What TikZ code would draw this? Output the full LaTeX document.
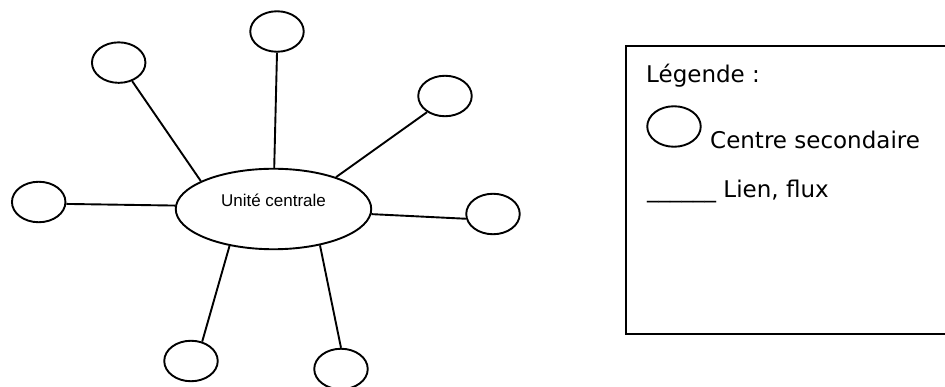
\documentclass[tikz,border=0pt]{standalone}
\usepackage{fontspec}
\setmainfont{DejaVu Sans}
\newfontfamily\arialfont{Liberation Sans}
\usepackage{tikz}
\usetikzlibrary{shapes.geometric}

\begin{document}
\begin{tikzpicture}[x=1pt, y=-1pt,
		centre/.style={draw, ellipse, line width=1.9pt, inner sep=0pt, minimum width=53.5pt, minimum height=40.5pt},
		unite/.style={draw, ellipse, line width=1.9pt, inner sep=0pt, minimum width=195.5pt, minimum height=80.5pt},
		lien/.style={-, draw, line width=1.9pt},
		legende/.style={inner sep=0pt, anchor=base west, font=\fontsize{23}{27}\selectfont}]
				\useasboundingbox (0,0) rectangle (945,387);
				\clip (0,0) rectangle (945,387);
				
				\begin{scope}[draw]
					\node[unite, font=\arialfont\fontsize{17}{20}\selectfont, text height=12pt, text depth=16pt] (uc) at (273.5, 209) {Unité centrale};
					\node[centre] (haut) at (277, 31.5) {};
					\node[centre] (hautg) at (118.7, 62.6) {};
					\node[centre] (hautd) at (445, 96) {};
					\node[centre] (gauche) at (38.7, 202) {};
					\node[centre] (droite) at (493, 214) {};
					\node[centre] (basg) at (191, 361) {};
					\node[centre] (basd) at (341, 369) {};
					
					\draw[lien] (haut.south) to (uc.89);
					\draw[lien] (hautg.-54) to (uc.159);
					\draw[lien] (hautd.222) to (uc.27);
					\draw[lien] (gauche.-4) to (uc.178);
					\draw[lien] (droite.190) to (uc.-3);
					\draw[lien] (basg.60) to (uc.220);
					\draw[lien] (basd.north) to (uc.-38);
				\end{scope}
				
				\begin{scope}[draw]
					\draw[line width=1.9pt] (948, 46) -- (626, 46) -- (626, 334) -- (948, 334);
					\node[legende] (titre) at (646, 83) {Légende :};
					\node[centre] (symb) at (674, 126.5) {};
					\node[legende] (txtcentre) at (710, 149) {Centre secondaire};
					\node[legende] (txtlien) at (647, 198) {\_\_\_\_\_\_ Lien, flux};
				\end{scope}
				
			\end{tikzpicture}
\end{document}
